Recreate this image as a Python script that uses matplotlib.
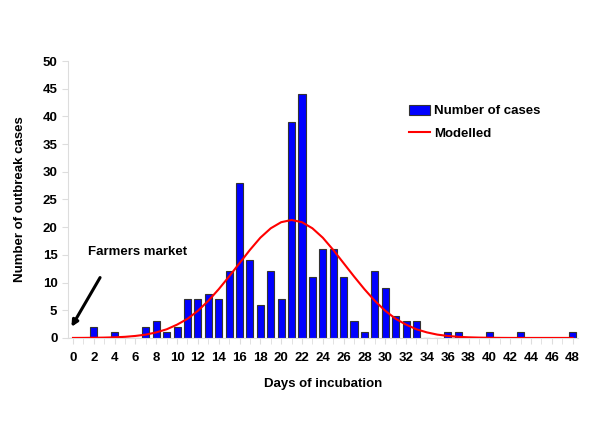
import matplotlib.pyplot as plt
import numpy as np

plt.rcParams['font.family'] = ['Liberation Sans', 'DejaVu Sans']
plt.rcParams['font.weight'] = 'bold'

# days of incubation and observed cases
days = np.arange(0, 49)
cases = [0, 0, 2, 0, 1, 0, 0, 2, 3, 1, 2, 7, 7, 8, 7, 12, 28, 14, 6, 12,
         7, 39, 44, 11, 16, 16, 11, 3, 1, 12, 9, 4, 3, 3, 0, 0, 1, 1, 0, 0,
         1, 0, 0, 1, 0, 0, 0, 0, 1]
# modelled curve
modelled = [0.0, 0.01, 0.03, 0.06, 0.11, 0.2, 0.36, 0.6, 1.0, 1.56,
            2.4, 3.45, 4.9, 6.7, 8.8, 11.1, 13.5, 15.9, 18.1, 19.8,
            20.9, 21.3, 20.9, 19.8, 18.1, 15.9, 13.5, 11.1, 8.8, 6.7,
            4.9, 3.45, 2.4, 1.56, 1.0, 0.6, 0.36, 0.2, 0.11, 0.06,
            0.03, 0.01, 0, 0, 0, 0, 0, 0, 0]

fig = plt.figure(figsize=(6, 4.24), dpi=100)
ax = fig.add_axes([0.113, 0.203, 0.85, 0.653])

bars = ax.bar(days, cases, width=0.68, color='#0000ff', edgecolor='#333333',
              linewidth=0.8, label='Number of cases', zorder=2)
line, = ax.plot(days, modelled, color='#ff0000', lw=1.5, label='Modelled', zorder=3)

ax.set_xlim(-0.5, 48.5)
ax.set_ylim(0, 50)
ax.set_yticks(np.arange(0, 51, 5))
ax.set_xticks(np.arange(0, 49, 2))
ax.set_xticks(np.arange(0, 49, 1), minor=True)
ax.tick_params(axis='both', labelsize=9.5, colors='#dddddd', labelcolor='black',
               length=4, width=0.8)
ax.tick_params(axis='x', which='minor', length=4, colors='#dddddd')
ax.tick_params(axis='x', pad=6)
for side in ['top', 'right']:
    ax.spines[side].set_visible(False)
for side in ['left', 'bottom']:
    ax.spines[side].set_color('#dddddd')

ax.set_xlabel('Days of incubation', fontsize=9.5, fontweight='bold', labelpad=10)
ax.set_ylabel('Number of outbreak cases', fontsize=9.5, fontweight='bold', labelpad=12)

ax.text(1.4, 15.6, 'Farmers market', fontsize=9.5, fontweight='bold', va='center')
ax.annotate('', xy=(-0.15, 2.0), xytext=(2.6, 10.9),
            arrowprops=dict(arrowstyle='-|>', color='black', lw=2.2,
                            shrinkA=0, shrinkB=0, mutation_scale=9))

ax.legend([bars, line], ['Number of cases', 'Modelled'],
          loc='upper left', bbox_to_anchor=(0.645, 0.885), frameon=False,
          fontsize=9.5, handlelength=1.6, handleheight=0.8, labelspacing=0.75,
          handletextpad=0.3)

fig.savefig('out.png', dpi=100)
